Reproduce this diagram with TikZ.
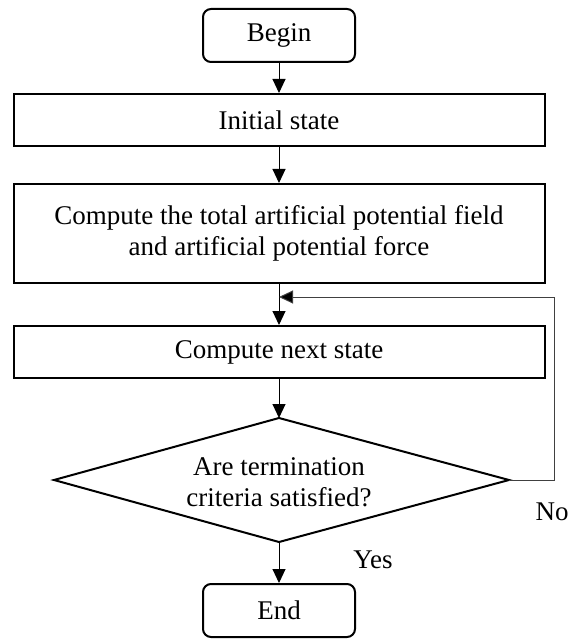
\documentclass[tikz,border=0pt]{standalone}
\usepackage{fontspec}
\setmainfont{Liberation Serif}
\usetikzlibrary{arrows.meta}
\begin{document}
\begin{tikzpicture}[x=1pt,y=-1pt,
  txt/.style={font=\fontsize{27}{31}\selectfont},
  box/.style={txt,draw,line width=2pt,minimum width=531pt,minimum height=52pt,inner sep=0pt,align=center},
  term/.style={txt,draw,line width=2pt,rounded corners=8pt,minimum width=152pt,minimum height=53pt,inner sep=0pt},
  arr/.style={line width=1pt,-{Triangle[length=14pt,width=13pt]}},
  fb/.style={line width=1pt,draw=black!75,-{Triangle[length=14pt,width=13pt,fill=black]}},
]
\useasboundingbox (0,0) rectangle (577,639);
\node[term] (begin) at (279,35.5) {Begin};
\node[box] (init) at (279,120) {Initial state};
\node[box,minimum height=99pt] (comp) at (279,233.5) {Compute the total artificial potential field\\and artificial potential force};
\node[box] (next) at (279,352) {Compute next state};
\coordinate (dt) at (279,418);
\coordinate (dr) at (509,480);
\coordinate (db) at (279,542);
\coordinate (dl) at (54,480);
\draw[line width=2pt,line join=miter] (dt) -- (dr) -- (db) -- (dl) -- cycle;
\node[txt,align=center] (dtext) at (279,482) {Are termination\\criteria satisfied?};
\node[term] (end) at (279,610.5) {End};
\coordinate (fb1) at (554,480);
\coordinate (fb2) at (554,297);
\coordinate (fb3) at (279,297);
\draw[arr] (begin) -- (init);
\draw[arr] (init) -- (comp);
\draw[arr] (comp) -- (next);
\draw[arr] (next) -- (dt);
\draw[arr] (db) -- (end);
\draw[fb] (dr) -- (fb1) -- (fb2) -- (fb3);
\node[txt] (yes) at (373,560) {Yes};
\node[txt] (no) at (552,512) {No};
\end{tikzpicture}
\end{document}
